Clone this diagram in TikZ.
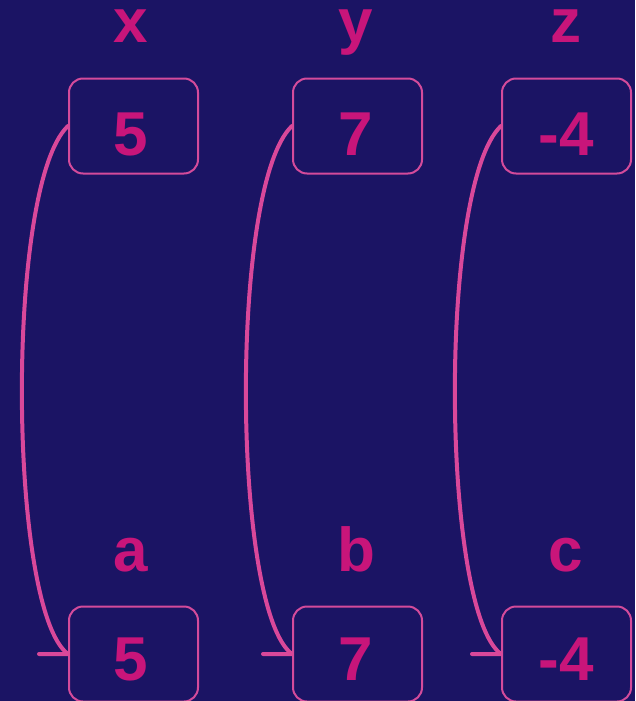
\documentclass[tikz,border=0pt]{standalone}
\usepackage{fontspec}
\setmainfont{Liberation Sans}
\definecolor{bg}{HTML}{1B1464}
\definecolor{txt}{HTML}{C8157A}
\definecolor{edge}{HTML}{D44B9B}
\definecolor{arr}{HTML}{D9489A}
\tikzset{
  box/.style={draw=edge, line width=2pt, rounded corners=14pt, minimum width=129pt, minimum height=95pt, inner sep=0pt},
  val/.style={anchor=base, text=txt, font=\fontsize{62}{62}\selectfont\bfseries, inner sep=0pt},
  lbl/.style={anchor=base, text=txt, font=\fontsize{62}{62}\selectfont\bfseries, inner sep=0pt},
  conn/.style={draw=arr, line width=4pt, line cap=round, line join=round},
}
\begin{document}
\begin{tikzpicture}[x=1pt,y=-1pt]
\fill[bg] (0,0) rectangle (635,701);
\useasboundingbox (0,0) rectangle (635,701);
% labels
\node[lbl] (lx) at (131,43) {x};
\node[lbl] (ly) at (356,43) {y};
\node[lbl] (lz) at (566,43) {z};
\node[lbl] (la) at (131,571) {a};
\node[lbl] (lb) at (356,571) {b};
\node[lbl] (lc) at (566,571) {c};
% boxes
\node[box] (t1) at (133.5,126) {};
\node[box] (t2) at (357.5,126) {};
\node[box] (t3) at (566.5,126) {};
\node[box] (b1) at (133.5,654) {};
\node[box] (b2) at (357.5,654) {};
\node[box] (b3) at (566.5,654) {};
% values
\node[val] (v1) at (131,155) {5};
\node[val] (v2) at (356,155) {7};
\node[val] (v3) at (566,155) {-4};
\node[val] (w1) at (131,680) {5};
\node[val] (w2) at (356,680) {7};
\node[val] (w3) at (566,680) {-4};
% connectors
\draw[conn] (t1.west) .. controls (5,185) and (8,610) .. (b1.west) -- ++(-29,0);
\draw[conn] (t2.west) .. controls (229,185) and (232,610) .. (b2.west) -- ++(-29,0);
\draw[conn] (t3.west) .. controls (438,185) and (441,610) .. (b3.west) -- ++(-29,0);
\end{tikzpicture}
\end{document}
